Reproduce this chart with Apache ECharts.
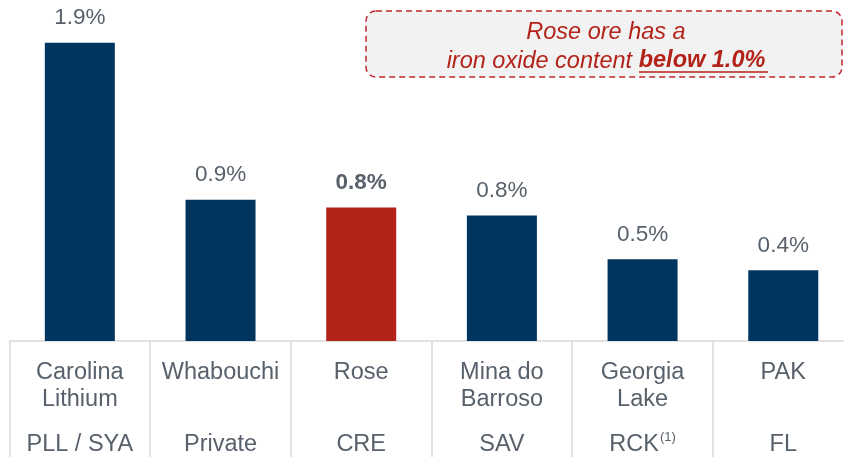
<!DOCTYPE html>
<html lang="en">
<head>
  <meta charset="UTF-8">
  <title>Iron oxide content</title>
  <script src="https://cdn.jsdelivr.net/npm/echarts@6.0.0/dist/echarts.min.js"></script>
  <style>
    html, body { margin: 0; padding: 0; background: #fff; }
    #chart { width: 844px; height: 457px; }
  </style>
</head>
<body>
  <div id="chart"></div>
  <script>
    // --- data ---
    const projects = [['Carolina', 'Lithium'], ['Whabouchi'], ['Rose'], ['Mina do', 'Barroso'], ['Georgia', 'Lake'], ['PAK']];
    const tickers = ['PLL / SYA', 'Private', 'CRE', 'SAV', 'RCK', 'FL'];
    const tickerNotes = ['', '', '', '', '(1)', ''];
    const ironOxide = [1.9, 0.9, 0.85, 0.8, 0.52, 0.45];
    const valueLabels = ['1.9%', '0.9%', '0.8%', '0.8%', '0.5%', '0.4%'];
    const highlight = 'Rose';

    const NAVY = '#00355f';
    const RED = '#b3231a';
    const GREY_TXT = '#58616b';
    const LINE = '#d9d9d9';
    const FONT = '"Liberation Sans", Arial, sans-serif';

    const chart = echarts.init(document.getElementById('chart'));
    const cats = projects.map(p => p.join(' '));

    const barData = ironOxide.map((v, i) => {
      const hot = cats[i] === highlight;
      return {
        value: v,
        itemStyle: { color: hot ? RED : NAVY },
        label: { fontWeight: hot ? 'bold' : 'normal' }
      };
    });

    chart.setOption({
      animation: false,
      grid: { left: 9.5, right: -9.6, top: 27, bottom: 116, containLabel: false, outerBoundsMode: 'none' },
      xAxis: {
        type: 'category',
        data: cats,
        axisLine: { lineStyle: { color: LINE, width: 1.5 } },
        axisTick: { show: true, length: 120, lineStyle: { color: LINE, width: 1.5 } },
        axisLabel: {
          interval: 0,
          margin: 18,
          fontFamily: FONT,
          formatter: function (val, idx) {
            const p = projects[idx];
            const note = tickerNotes[idx] ? '{s|' + tickerNotes[idx] + '}' : '';
            return '{n|' + p[0] + '}\n{n|' + (p[1] || '\u00a0') + '}\n{t|' + tickers[idx] + '}' + note;
          },
          rich: {
            n: { fontSize: 23.5, lineHeight: 27, color: GREY_TXT, fontFamily: FONT },
            t: { fontSize: 23.5, lineHeight: 57, color: GREY_TXT, fontFamily: FONT, verticalAlign: 'bottom', padding: [0, 0, 13, 0] },
            s: { fontSize: 13, lineHeight: 57, color: GREY_TXT, fontFamily: FONT, verticalAlign: 'bottom', padding: [0, 0, 26, 1] }
          }
        }
      },
      yAxis: { type: 'value', min: 0, max: 2, show: false, splitLine: { show: false } },
      series: [{
        type: 'bar',
        data: barData,
        barWidth: 70,
        label: {
          show: true,
          position: 'top',
          distance: 13,
          fontSize: 22.5,
          fontFamily: FONT,
          color: GREY_TXT,
          formatter: p => valueLabels[p.dataIndex]
        }
      }],
      graphic: [
        {
          type: 'rect',
          shape: { x: 366, y: 11, width: 476, height: 66, r: 10 },
          style: { fill: '#f2f2f2', stroke: '#c0282d', lineWidth: 1.5, lineDash: [6, 4] }
        },
        {
          type: 'text',
          x: 606, y: 32,
          style: {
            text: 'Rose ore has a',
            fontSize: 23.5, fontStyle: 'italic', fontFamily: FONT, fill: RED,
            align: 'center', verticalAlign: 'middle'
          }
        },
        {
          type: 'text',
          x: 606, y: 61,
          style: {
            text: '{i|iron oxide content }{b|below 1.0%}',
            align: 'center', verticalAlign: 'middle',
            rich: {
              i: { fontSize: 23.5, fontStyle: 'italic', fontFamily: FONT, fill: RED, color: RED },
              b: { fontSize: 23.5, fontStyle: 'italic', fontWeight: 'bold', fontFamily: FONT, fill: RED, color: RED }
            }
          }
        },
        {
          type: 'line',
          shape: { x1: 639, y1: 72, x2: 768, y2: 72 },
          style: { stroke: RED, lineWidth: 1.5 }
        }
      ]
    });
  </script>
</body>
</html>
